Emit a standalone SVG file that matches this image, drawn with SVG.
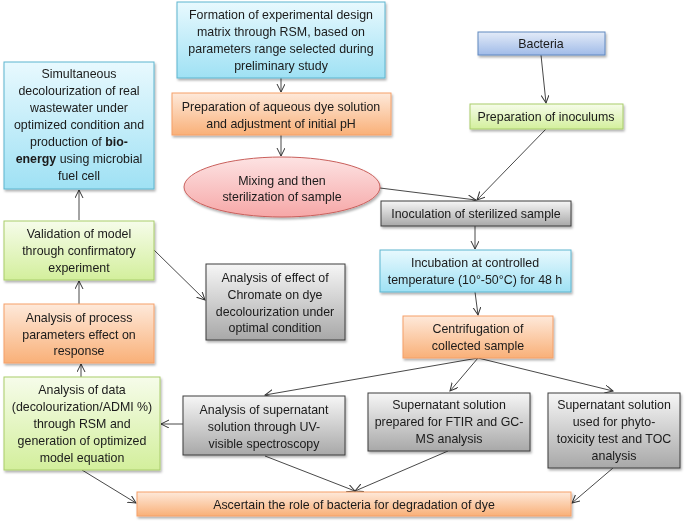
<svg xmlns="http://www.w3.org/2000/svg" width="685" height="523" viewBox="0 0 685 523">
<defs>
<linearGradient id="gBlue" x1="0" y1="0" x2="0" y2="1"><stop offset="0" stop-color="#e8f9fe"/><stop offset="1" stop-color="#9fe1f4"/></linearGradient>
<linearGradient id="gOrange" x1="0" y1="0" x2="0" y2="1"><stop offset="0" stop-color="#fee9da"/><stop offset="1" stop-color="#f9b078"/></linearGradient>
<linearGradient id="gGreen" x1="0" y1="0" x2="0" y2="1"><stop offset="0" stop-color="#f6fcea"/><stop offset="1" stop-color="#d3ef9c"/></linearGradient>
<linearGradient id="gGray" x1="0" y1="0" x2="0" y2="1"><stop offset="0" stop-color="#f6f6f6"/><stop offset="1" stop-color="#a8a8a8"/></linearGradient>
<linearGradient id="gSteel" x1="0" y1="0" x2="0" y2="1"><stop offset="0" stop-color="#e3ebf8"/><stop offset="1" stop-color="#a0bbe8"/></linearGradient>
<linearGradient id="gPink" x1="0" y1="0" x2="0" y2="1"><stop offset="0" stop-color="#fde3e3"/><stop offset="1" stop-color="#f6a7a7"/></linearGradient>
<filter id="sh" x="-10%" y="-10%" width="120%" height="130%"><feDropShadow dx="1.2" dy="2" stdDeviation="1.2" flood-color="#000" flood-opacity="0.3"/></filter>
<marker id="ah" markerWidth="10" markerHeight="10" refX="8" refY="4" orient="auto" markerUnits="userSpaceOnUse"><path d="M0,0 L8,4 L0,8" fill="none" stroke="#333" stroke-width="1"/></marker>
<style>
text{font-family:"Liberation Sans",Arial,sans-serif;font-size:12.4px;fill:#1a1a1a;text-anchor:middle}
.blue{fill:url(#gBlue);stroke:#5db5cf;stroke-width:1}
.orange{fill:url(#gOrange);stroke:#f5a068;stroke-width:1}
.green{fill:url(#gGreen);stroke:#a9cd6b;stroke-width:1}
.gray{fill:url(#gGray);stroke:#3c3c3c;stroke-width:1}
.steel{fill:url(#gSteel);stroke:#6089c0;stroke-width:1}
.pink{fill:url(#gPink);stroke:#c9605c;stroke-width:1}
.n{filter:url(#sh)}
#edges line,#edges path{stroke:#333;stroke-width:0.9;fill:none;marker-end:url(#ah)}
</style>
</defs>

<g id="edges">
<line x1="281" y1="78" x2="281" y2="92"/>
<line x1="281" y1="135" x2="281" y2="156"/>
<line x1="541" y1="55" x2="546" y2="103"/>
<line x1="546" y1="129" x2="477" y2="200"/>
<line x1="380" y1="188" x2="476" y2="200"/>
<line x1="475" y1="226" x2="475" y2="249"/>
<line x1="475" y1="292" x2="478" y2="315"/>
<line x1="478" y1="358" x2="265" y2="395"/>
<line x1="478" y1="358" x2="450" y2="391"/>
<line x1="478" y1="358" x2="613" y2="391"/>
<line x1="183" y1="424" x2="161" y2="424"/>
<line x1="265" y1="456" x2="355" y2="491"/>
<line x1="448" y1="451" x2="355" y2="491"/>
<line x1="613" y1="468" x2="572" y2="503"/>
<line x1="82" y1="470" x2="136" y2="503"/>
<line x1="81" y1="377" x2="81" y2="364"/>
<line x1="79" y1="304" x2="79" y2="281"/>
<line x1="79" y1="220" x2="79" y2="190"/>
<line x1="154" y1="250" x2="205" y2="300"/>
</g>

<g id="n-formation" class="n"><rect class="blue" x="177" y="2" width="208" height="76"/>
<text x="281" y="19">Formation of experimental design</text><text x="281" y="36">matrix through RSM, based on</text><text x="281" y="53">parameters range selected during</text><text x="281" y="70">preliminary study</text></g>

<g id="n-aqueous" class="n"><rect class="orange" x="172" y="93" width="219" height="42"/>
<text x="281" y="110.5">Preparation of aqueous dye solution</text><text x="281" y="127.5">and adjustment of initial  pH</text></g>

<g id="n-mixing" class="n"><ellipse class="pink" cx="282" cy="187" rx="98" ry="30"/>
<text x="282" y="184.5">Mixing and then</text><text x="282" y="201">sterilization of sample</text></g>

<g id="n-simultaneous" class="n"><rect class="blue" x="4" y="62" width="150" height="127"/>
<text x="79" y="78">Simultaneous</text><text x="79" y="95">decolourization of real</text><text x="79" y="112">wastewater under</text><text x="79" y="129">optimized condition and</text><text x="79" y="146">production of <tspan font-weight="bold">bio-</tspan></text><text x="79" y="163"><tspan font-weight="bold">energy</tspan> using microbial</text><text x="79" y="180">fuel cell</text></g>

<g id="n-bacteria" class="n"><rect class="steel" x="478" y="32" width="127" height="23"/>
<text x="541" y="47.5">Bacteria</text></g>

<g id="n-inoculums" class="n"><rect class="green" x="470" y="104" width="153" height="25"/>
<text x="546" y="120.5">Preparation of inoculums</text></g>

<g id="n-inoculation" class="n"><rect class="gray" x="381" y="201" width="190" height="25"/>
<text x="476" y="217.5">Inoculation of sterilized  sample</text></g>

<g id="n-incubation" class="n"><rect class="blue" x="380" y="250" width="191" height="42"/>
<text x="475" y="266.5">Incubation at controlled</text><text x="475" y="283.5">temperature (10°-50°C) for 48 h</text></g>

<g id="n-centrifugation" class="n"><rect class="orange" x="403" y="316" width="150" height="42"/>
<text x="478" y="332.5">Centrifugation of</text><text x="478" y="349.5">collected sample</text></g>

<g id="n-validation" class="n"><rect class="green" x="4" y="221" width="150" height="59"/>
<text x="79" y="237.5">Validation of model</text><text x="79" y="255">through confirmatory</text><text x="79" y="272">experiment</text></g>

<g id="n-chromate" class="n"><rect class="gray" x="206" y="264" width="139" height="76"/>
<text x="275" y="281.5">Analysis of effect of</text><text x="275" y="298.5">Chromate on dye</text><text x="275" y="315.5">decolourization under</text><text x="275" y="332">optimal condition</text></g>

<g id="n-process" class="n"><rect class="orange" x="4" y="304" width="150" height="59"/>
<text x="79" y="321.5">Analysis of process</text><text x="79" y="338.5">parameters effect on</text><text x="79" y="355">response</text></g>

<g id="n-data" class="n"><rect class="green" x="4" y="377" width="156" height="93"/>
<text x="82" y="393.5">Analysis of data</text><text x="82" y="410.5">(decolourization/ADMI %)</text><text x="82" y="427.5">through RSM and</text><text x="82" y="444.5">generation of optimized</text><text x="82" y="461.5">model equation</text></g>

<g id="n-uv" class="n"><rect class="gray" x="183" y="396" width="162" height="59"/>
<text x="264" y="413.5">Analysis of supernatant</text><text x="264" y="430.5">solution through UV-</text><text x="264" y="447.5">visible spectroscopy</text></g>

<g id="n-ftir" class="n"><rect class="gray" x="368" y="393" width="162" height="58"/>
<text x="449" y="408.5">Supernatant solution</text><text x="449" y="426">prepared for FTIR and GC-</text><text x="449" y="443">MS analysis</text></g>

<g id="n-phyto" class="n"><rect class="gray" x="548" y="393" width="132" height="75"/>
<text x="614" y="408.5">Supernatant solution</text><text x="614" y="425.5">used for phyto-</text><text x="614" y="442.5">toxicity test and TOC</text><text x="614" y="459.5">analysis</text></g>

<g id="n-ascertain" class="n"><rect class="orange" x="137" y="492" width="434" height="24"/>
<text x="354" y="508.5">Ascertain the role of bacteria for degradation of dye</text></g>
</svg>
